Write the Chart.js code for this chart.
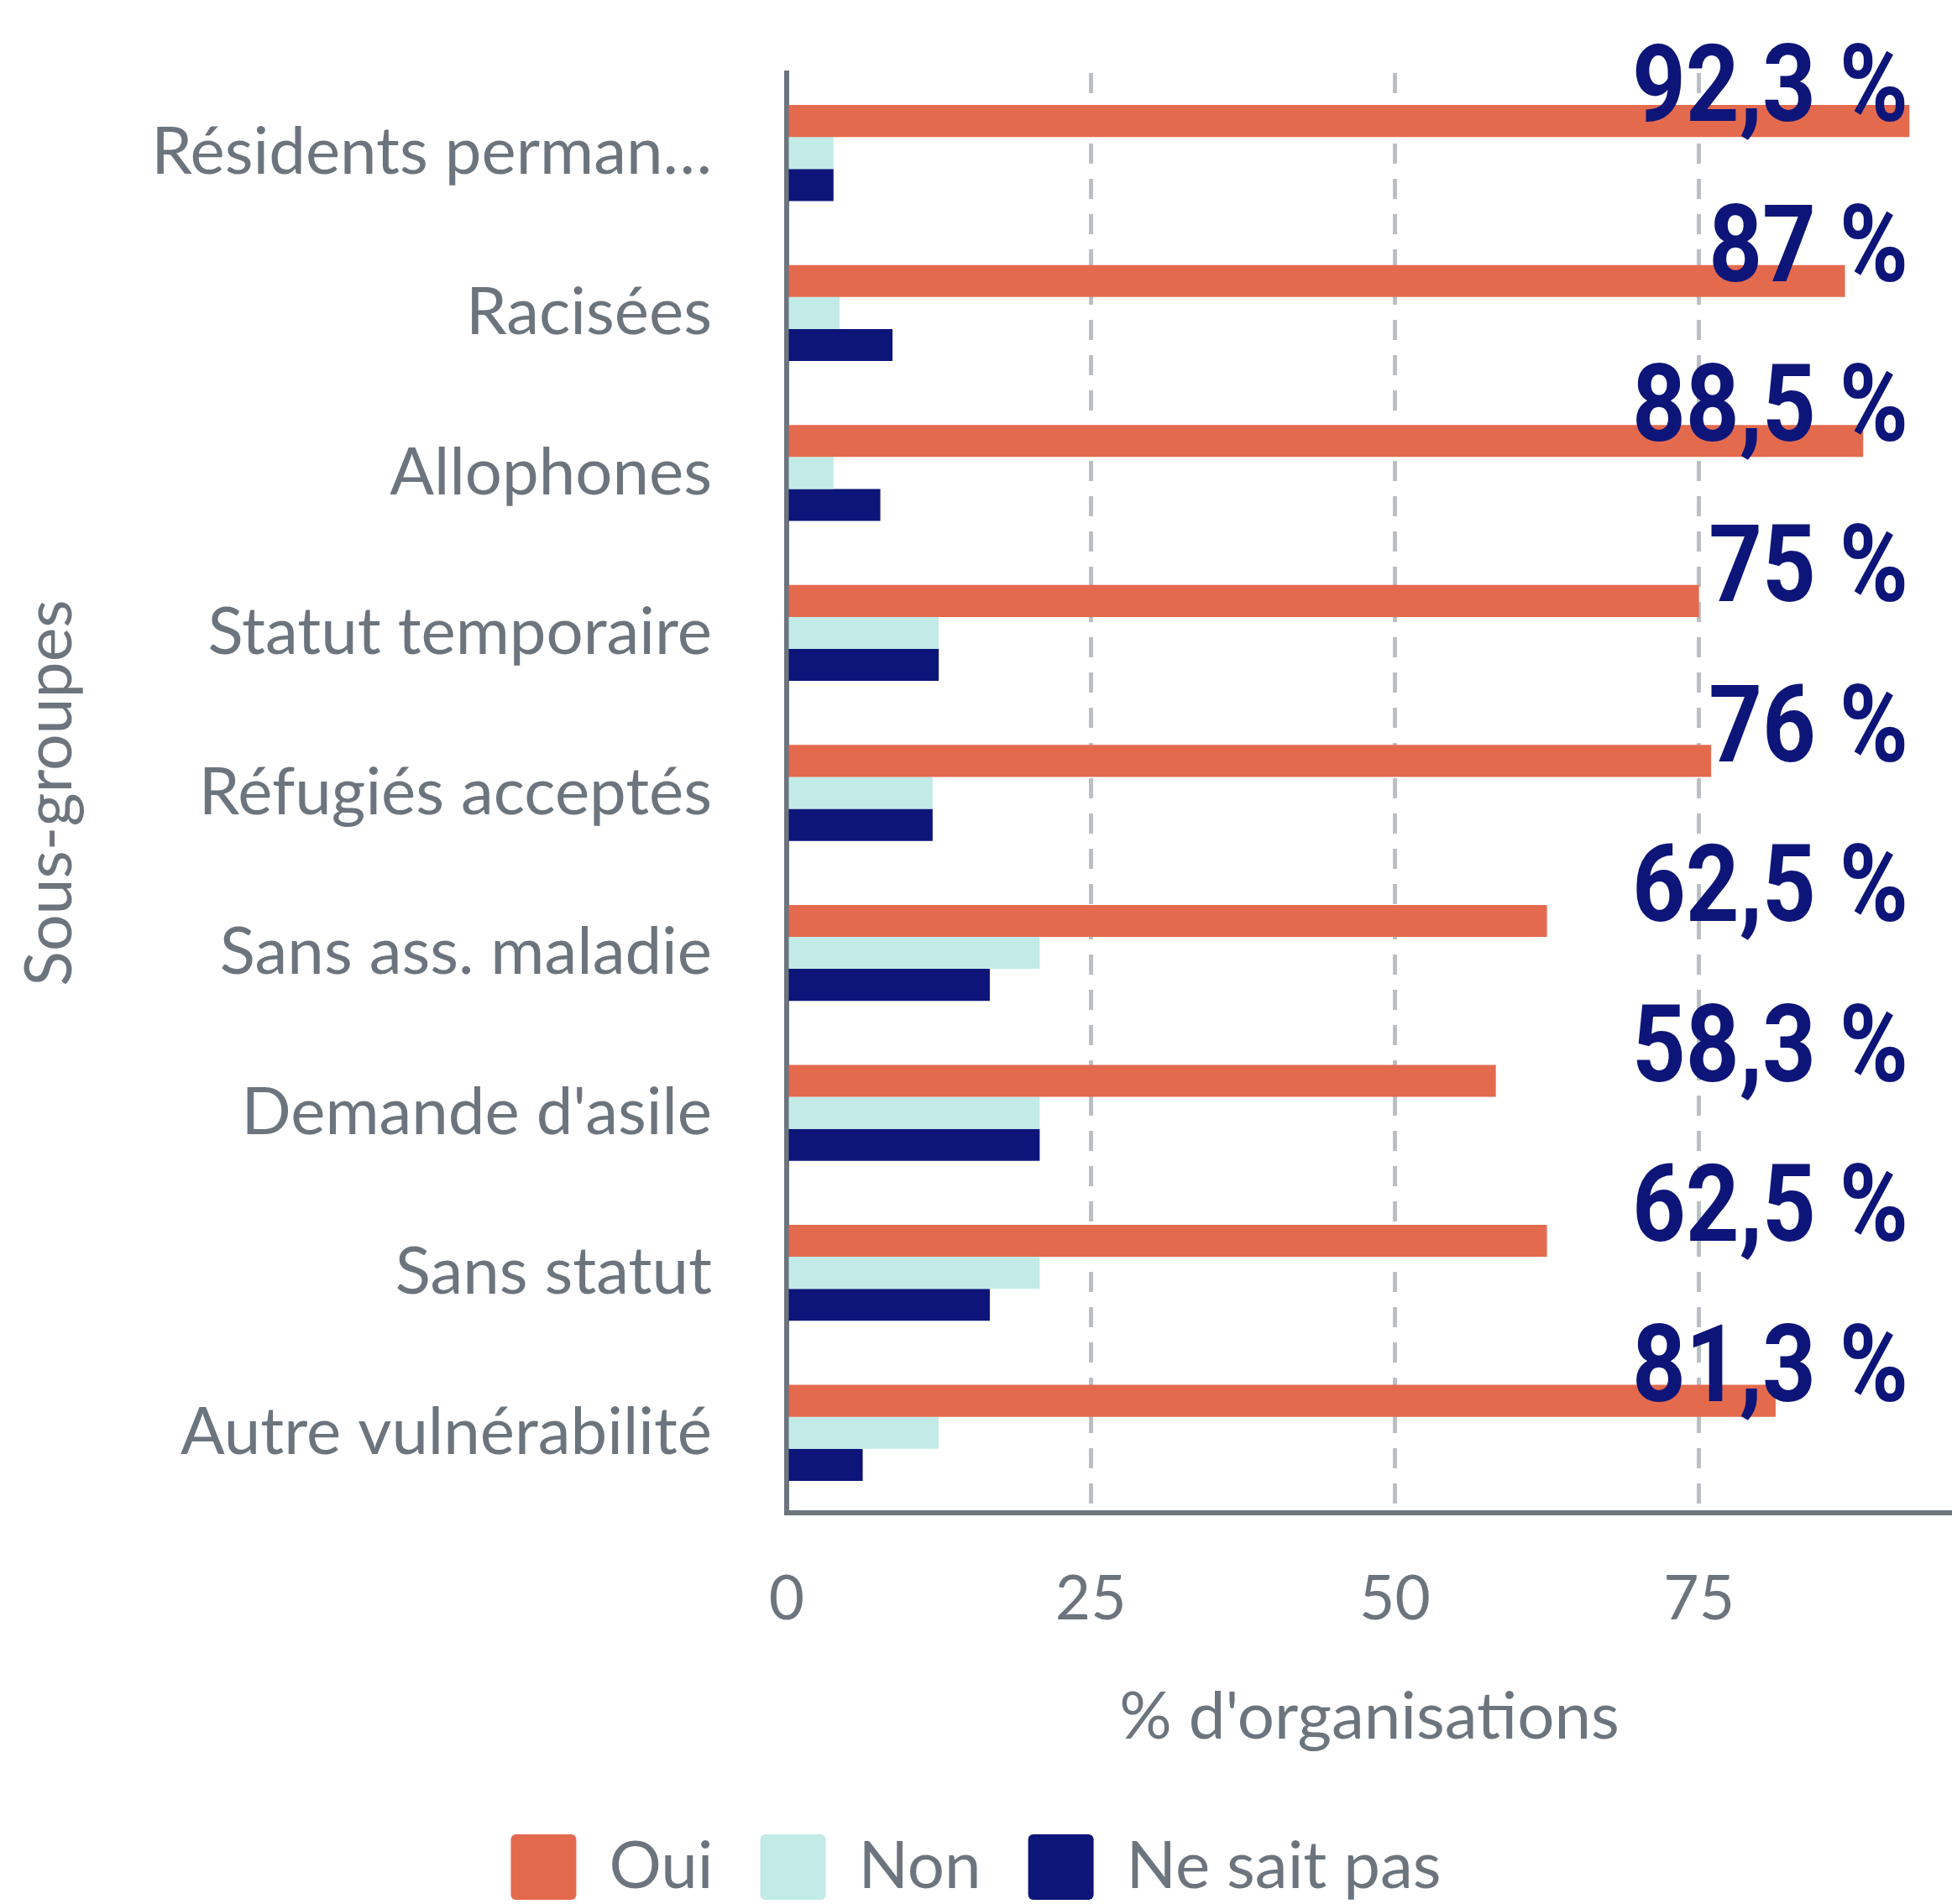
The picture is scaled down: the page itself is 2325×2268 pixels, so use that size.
<!DOCTYPE html>
<html>
<head>
<meta charset="utf-8">
<script src="https://cdn.jsdelivr.net/npm/chart.js@4"></script>
<style>
  body { margin: 0; background: #fff; }
</style>
</head>
<body>
<canvas id="chart" width="2325" height="2268"></canvas>
<script>
// Data
const categories = ['Résidents perman…', 'Racisées', 'Allophones', 'Statut temporaire', 'Réfugiés acceptés',
  'Sans ass. maladie', "Demande d'asile", 'Sans statut', 'Autre vulnérabilité'];
const oui = [92.3, 87, 88.5, 75, 76, 62.5, 58.3, 62.5, 81.3];
const non = [3.85, 4.35, 3.85, 12.5, 12, 20.8, 20.8, 20.8, 12.5];
const neSaitPas = [3.85, 8.7, 7.7, 12.5, 12, 16.7, 20.8, 16.7, 6.25];
const xTicks = [0, 25, 50, 75];

const grey = '#6c757d';
const navy = '#0d1579';

// big labels with the "Oui" value, right side
const ouiLabels = {
  id: 'ouiLabels',
  afterDatasetsDraw(chart) {
    const { ctx, chartArea, scales } = chart;
    ctx.save();
    ctx.fillStyle = navy;
    ctx.font = 'bold 128px Roboto';
    ctx.textAlign = 'right';
    ctx.textBaseline = 'middle';
    oui.forEach((v, i) => {
      const text = String(v).replace('.', ',') + ' %';
      const y = scales.y.getPixelForValue(i) - 70;
      ctx.save();
      ctx.translate(chartArea.right - 52, y);
      ctx.scale(0.87, 1);
      ctx.fillText(text, 0, 0);
      ctx.restore();
    });
    ctx.restore();
  }
};

new Chart(document.getElementById('chart'), {
  type: 'bar',
  data: {
    labels: categories,
    datasets: [
      { label: 'Oui', data: oui, backgroundColor: '#e46a4e' },
      { label: 'Non', data: non, backgroundColor: '#c2ebe7' },
      { label: 'Ne sait pas', data: neSaitPas, backgroundColor: navy }
    ]
  },
  options: {
    indexAxis: 'y',
    responsive: false,
    devicePixelRatio: 1,
    animation: false,
    datasets: { bar: { categoryPercentage: 0.6, barPercentage: 1 } },
    layout: { padding: { left: 0, right: 0, top: 87, bottom: -5 } },
    plugins: {
      tooltip: { enabled: false },
      legend: {
        position: 'bottom',
        labels: {
          boxWidth: 78, boxHeight: 78, padding: 56,
          useBorderRadius: true, borderRadius: 6,
          color: grey,
          font: { family: 'Lato', size: 78 }
        }
      }
    },
    scales: {
      x: {
        min: 0,
        max: 95.8,
        afterFit: s => { s.height = 327; },
        afterBuildTicks: s => { s.ticks = xTicks.map(v => ({ value: v })); },
        grid: { color: '#babfc4', lineWidth: 5, drawTicks: false },
        border: { display: true, color: grey, width: 6, dash: [24, 18] },
        ticks: { color: grey, padding: 60, font: { family: 'Lato', size: 73 } },
        title: {
          display: true, text: "% d'organisations", color: grey,
          padding: { top: 0, bottom: 36 },
          font: { family: 'Lato', size: 78 }
        }
      },
      y: {
        afterFit: s => { s.width = 937; },
        // tick marks hidden, their length only pushes the labels left
        grid: { display: false, drawTicks: true, tickLength: 89 },
        border: { display: true, color: grey, width: 6 },
        ticks: { color: grey, padding: 0, font: { family: 'Lato', size: 78 } },
        title: {
          display: true, text: 'Sous-groupes', color: grey,
          padding: { top: 14, bottom: 0 },
          font: { family: 'Lato', size: 77 }
        }
      }
    }
  },
  plugins: [ouiLabels]
});
</script>
</body>
</html>
